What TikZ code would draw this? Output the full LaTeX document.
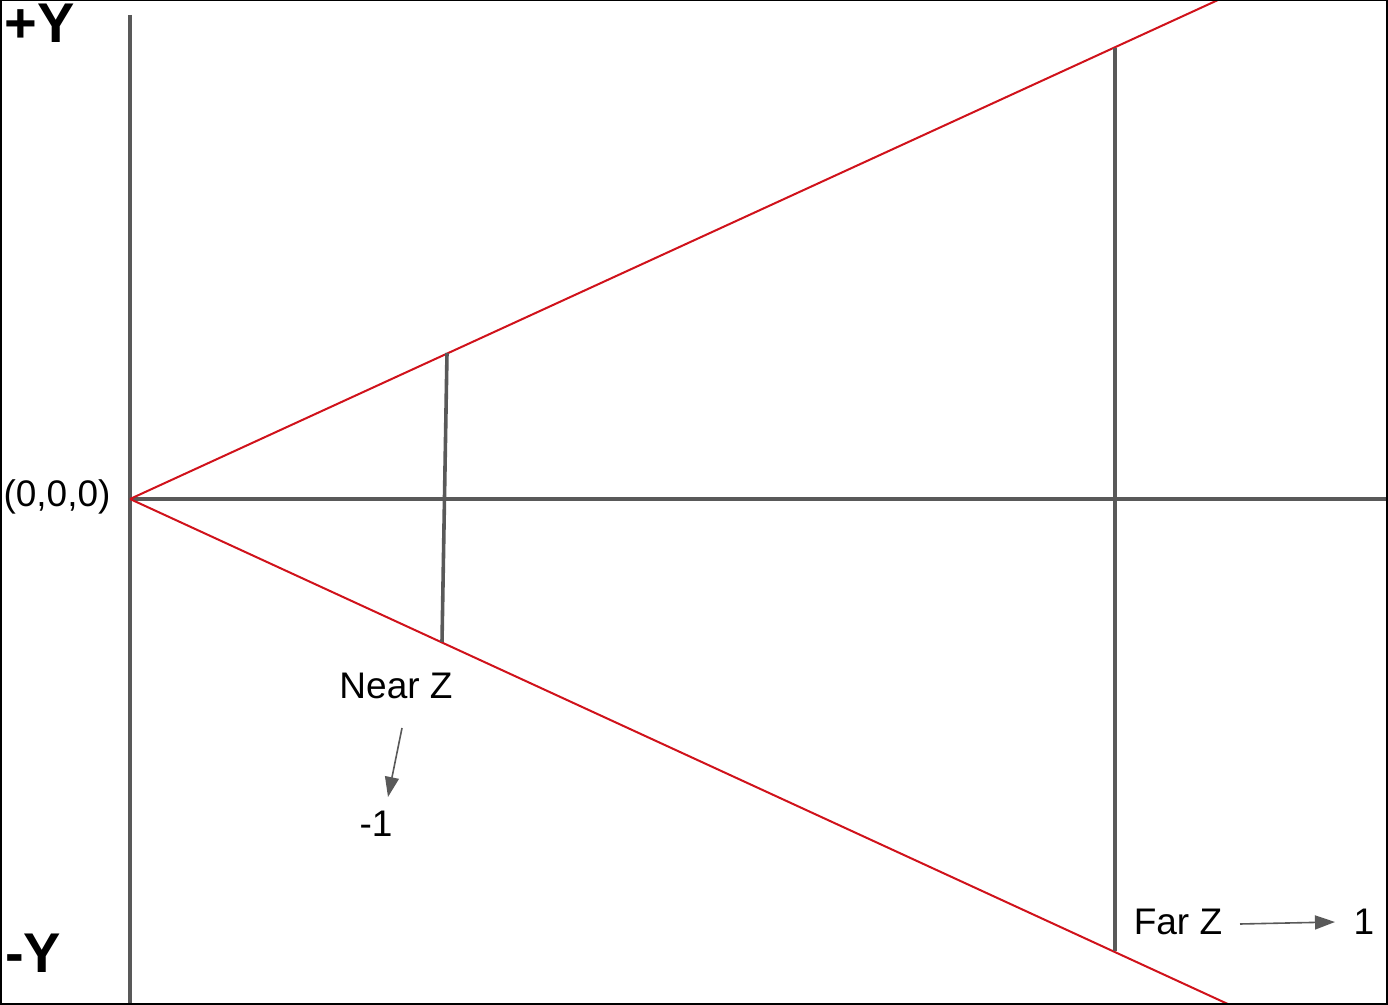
\documentclass[tikz,border=0pt]{standalone}
\usepackage{fontspec}
\setmainfont{Liberation Sans}
\usetikzlibrary{arrows.meta}
\definecolor{axisgray}{HTML}{595959}
\definecolor{rayred}{HTML}{D0121B}

\begin{document}
\begin{tikzpicture}[x=.5pt,y=-.5pt,font=\fontsize{18.5}{22}\selectfont,
  axis/.style={draw=axisgray,line width=1.8pt},
  ray/.style={draw=rayred,line width=1pt},
  pointer/.style={draw=axisgray,line width=.8pt,-{Triangle[length=10pt,width=7pt]}},
  axislabel/.style={inner sep=0pt,font=\fontsize{28}{32}\selectfont\bfseries},
  txt/.style={inner sep=0pt}]
  \useasboundingbox (0,0) rectangle (1388,1005);
  \clip (0,0) rectangle (1388,1005);
  \coordinate (O) at (130,499);
  \coordinate (nearTop) at (447,353);
  \coordinate (nearBot) at (442,642);
  \coordinate (farTop) at (1115,48);
  \coordinate (farBot) at (1115,951);
  % axes
  \path[axis] (130,15) -- (130,1005);
  \path[axis] (O) -- (1388,499);
  % frustum edges
  \path[ray] (O) -- (1218,0);
  \path[ray] (O) -- (1230,1005);
  % near and far planes
  \path[axis] (nearTop) -- (nearBot);
  \path[axis] (farTop) -- (farBot);
  \node[axislabel] (plusY) at (40,23) {+Y};
  \node[axislabel] (minusY) at (33,953) {-Y};
  \node[txt] (origin) at (57,497) {(0,0,0)};
  \node[txt] (nearZ) at (396,686) {Near Z};
  \node[txt] (nearVal) at (376,824) {-1};
  \node[txt] (farZ) at (1178,922) {Far Z};
  \node[txt] (farVal) at (1364,922) {1};
  \coordinate (nearTail) at (402,728);
  \coordinate (nearTip) at (388,797);
  \coordinate (farTail) at (1240,924);
  \coordinate (farTip) at (1335,922);
  \path[pointer] (nearTail) -- (nearTip);
  \path[pointer] (farTail) -- (farTip);
  \draw[black,line width=1pt] (.5,.5) rectangle (1387,1004);
\end{tikzpicture}
\end{document}
